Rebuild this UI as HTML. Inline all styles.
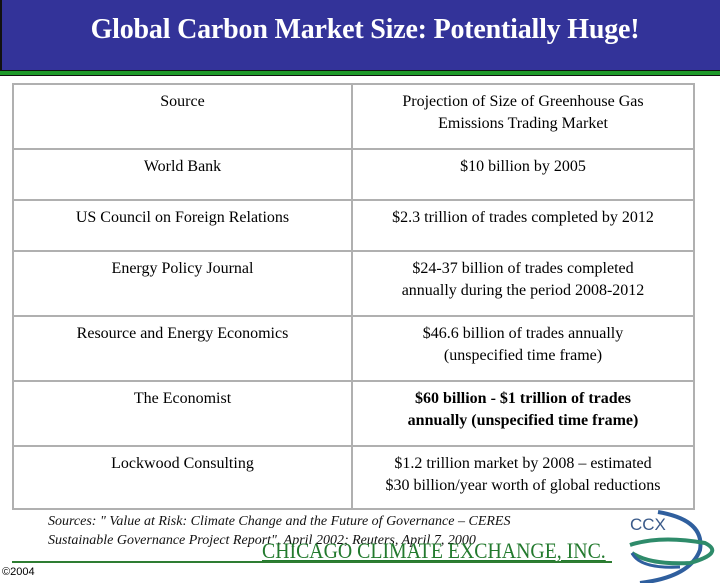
<!DOCTYPE html>
<html><head><meta charset="utf-8"><style>
body{margin:0;width:720px;height:583px;position:relative;background:#fff;overflow:hidden;font-family:"Liberation Serif",serif}
.a{position:absolute}
#hdr{left:0;top:0;width:720px;height:70px;background:#333399;border-left:2px solid #111;box-sizing:border-box}
#title{left:0;top:14px;width:730px;text-align:center;color:#fff;font-weight:bold;font-size:28px;letter-spacing:-0.2px}
#green{left:0;top:70px;width:720px;height:6px;background:#1f9a2a;border-top:1px solid #111;border-bottom:1px solid #111;box-sizing:border-box}
table{position:absolute;left:12px;top:83px;width:683px;border-collapse:collapse;font-size:16px}
td{border:2px solid #b0b0b0;text-align:center;vertical-align:top;padding:6px 6px 0;line-height:22px}
td.l{width:325px}
.src{left:48px;top:512px;font-style:italic;font-size:14px;line-height:19px;color:#111}
#cce{left:262px;top:538px;color:#237a2e;font-size:22px;text-decoration:underline;transform:scaleX(0.9);transform-origin:left top;white-space:nowrap}
#line{left:12px;top:561px;width:600px;height:2px;background:#2e7d32}
#copy{left:2px;top:566px;font-family:"Liberation Sans",sans-serif;font-size:11px;color:#000}
</style></head><body>
<div class="a" id="hdr"></div>
<div class="a" id="title">Global Carbon Market Size: Potentially Huge!</div>
<div class="a" id="green"></div>
<table>
<tr style="height:65px"><td class="l">Source</td><td>Projection of Size of Greenhouse Gas<br>Emissions Trading Market</td></tr>
<tr style="height:51px"><td class="l">World Bank</td><td>$10 billion by 2005</td></tr>
<tr style="height:51px"><td class="l">US Council on Foreign Relations</td><td>$2.3 trillion of trades completed by 2012</td></tr>
<tr style="height:65px"><td class="l">Energy Policy Journal</td><td>$24-37 billion of trades completed<br>annually during the period 2008-2012</td></tr>
<tr style="height:65px"><td class="l">Resource and Energy Economics</td><td>$46.6 billion of trades annually<br>(unspecified time frame)</td></tr>
<tr style="height:65px"><td class="l">The Economist</td><td style="font-weight:bold">$60 billion - $1 trillion of trades<br>annually (unspecified time frame)</td></tr>
<tr style="height:63px"><td class="l">Lockwood Consulting</td><td>$1.2 trillion market by 2008 – estimated<br>$30 billion/year worth of global reductions</td></tr>
</table>
<div class="a src">Sources: " Value at Risk: Climate Change and the Future of Governance – CERES<br>Sustainable Governance Project Report", April 2002; Reuters, April 7, 2000</div>
<div class="a" id="cce">CHICAGO CLIMATE EXCHANGE, INC.</div>
<div class="a" id="line"></div>
<div class="a" id="copy">©2004</div>
<svg class="a" style="left:590px;top:505px" width="130" height="78">
<text x="40" y="25" font-family="Liberation Sans,sans-serif" font-size="17" fill="#3a5a8a">CCX</text>
<path d="M68 7 Q115 15 110 45 Q100 72 50 78" fill="none" stroke="#2f5f9e" stroke-width="4"/>
<path d="M40 40 Q70 30 115 38 Q135 48 100 58 Q60 60 42 48" fill="none" stroke="#2e8b6a" stroke-width="4"/>
<path d="M42 48 Q50 64 90 62" fill="none" stroke="#2f5f9e" stroke-width="3"/>
</svg>
</body></html>
